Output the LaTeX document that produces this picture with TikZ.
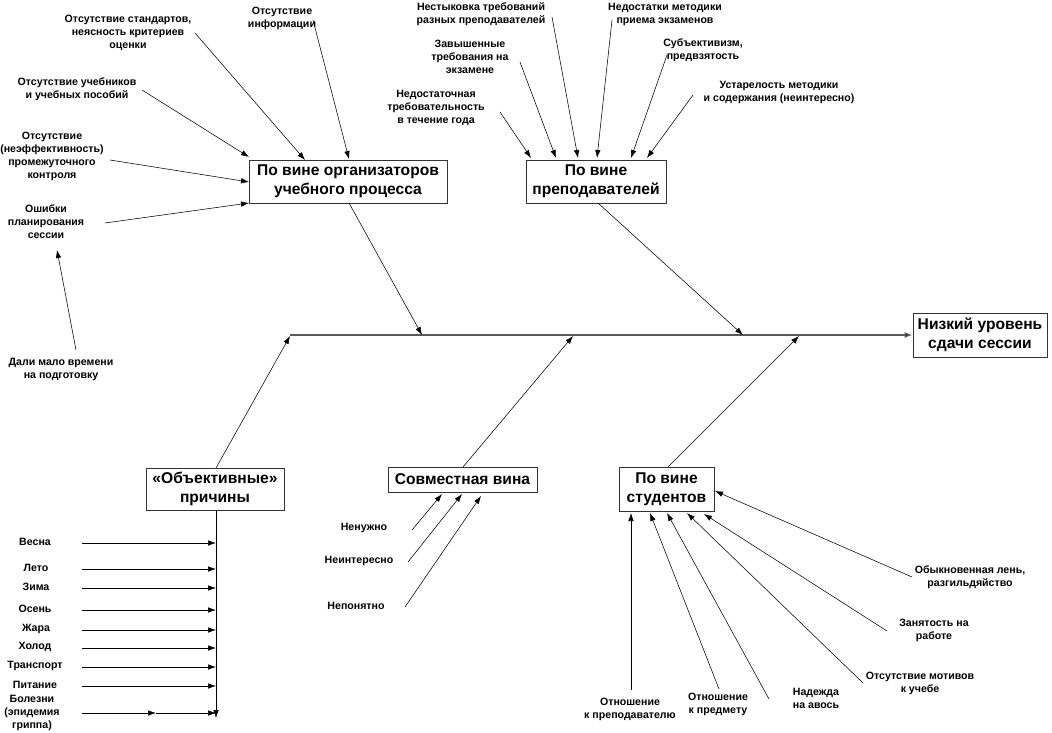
\documentclass[tikz,border=0pt]{standalone}
\usepackage{fontspec}
\setmainfont{Liberation Sans}
\usetikzlibrary{arrows.meta,calc}
\begin{document}
\begin{tikzpicture}[x=1pt,y=-1pt,
  lbl/.style={font=\fontsize{10.6}{13}\selectfont\bfseries,align=center,inner sep=0pt},
  box/.style={draw=black!80,line width=0.9pt,fill=white,align=center,inner sep=0pt,font=\fontsize{15.6}{19}\selectfont\bfseries},
  arr/.style={line width=0.55pt,-{Latex[length=8pt,width=5.5pt]}},
  spine/.style={line width=1.3pt,draw=black!65,-{Latex[length=8pt,width=6pt,fill=black]}}]
\useasboundingbox (0,0) rectangle (1052,733);
% boxes
\node[box,minimum width=198pt,minimum height=43pt] (org) at (348,181.5) {По вине организаторов\\учебного процесса};
\node[box,minimum width=140pt,minimum height=43pt] (teach) at (596,181.5) {По вине\\преподавателей};
\node[box,minimum width=138pt,minimum height=42pt] (obj) at (215,489) {«Объективные»\\причины};
\node[box,minimum width=149pt,minimum height=25pt] (sovm) at (462.5,479.5) {Совместная вина};
\node[box,minimum width=95pt,minimum height=44pt] (stud) at (666.5,489) {По вине\\студентов};
\node[box,minimum width=134pt,minimum height=44pt] (main) at (980,335) {Низкий уровень\\сдачи сессии};
% spine
\coordinate (sL) at (290,335);
\draw[spine] (sL) -- (main.west);
\coordinate (s1) at (422,335);
\coordinate (s2) at (743,335);
\coordinate (s3) at (573,336);
\coordinate (s4) at (799,336);
\coordinate (s0) at (290,336);
\coordinate (orgB) at (349,203);
\coordinate (teachB) at (598,203);
\coordinate (objT) at (216,468);
\coordinate (sovmT) at (463,467);
\coordinate (studT) at (668,467);
\draw[arr] (orgB) -- (s1);
\draw[arr] (teachB) -- (s2);
\draw[arr] (objT) -- (s0);
\draw[arr] (sovmT) -- (s3);
\draw[arr] (studT) -- (s4);
% organizers
\node[lbl] (o1) at (128,33) {Отсутствие стандартов,\\неясность критериев\\оценки};
\node[lbl] (o2) at (282,18.5) {Отсутствие\\информации};
\node[lbl] (o3) at (77,89.5) {Отсутствие учебников\\и учебных пособий};
\node[lbl] (o4) at (52,156.5) {Отсутствие\\(неэффективность)\\промежуточного\\контроля};
\node[lbl] (o5) at (46,222) {Ошибки\\планирования\\сессии};
\node[lbl] (o6) at (61,369) {Дали мало времени\\на подготовку};
\coordinate (o1s) at (195,33); \coordinate (o1e) at (305,160);
\coordinate (o2s) at (313,20); \coordinate (o2e) at (349,159);
\coordinate (o3s) at (142,90); \coordinate (o3e) at (249,157);
\coordinate (o4s) at (110,160); \coordinate (o4e) at (249,182);
\coordinate (o5s) at (105,223); \coordinate (o5e) at (249,203);
\coordinate (o6s) at (76,350); \coordinate (o6e) at (57,250);
\foreach \i in {1,...,6} {\draw[arr] (o\i s) -- (o\i e);}
% teachers
\node[lbl] (p1) at (481,14.5) {Нестыковка требований\\разных преподавателей};
\node[lbl] (p2) at (665,14.5) {Недостатки методики\\приема экзаменов};
\node[lbl] (p3) at (470,57) {Завышенные\\требования на\\экзамене};
\node[lbl] (p4) at (703,50.5) {Субъективизм,\\предвзятость};
\node[lbl] (p5) at (436,108) {Недостаточная\\требовательность\\в течение года};
\node[lbl] (p6) at (779,92.5) {Устарелость методики\\и содержания (неинтересно)};
\coordinate (p1s) at (552,17); \coordinate (p1e) at (578,158);
\coordinate (p2s) at (612,20); \coordinate (p2e) at (597,158);
\coordinate (p3s) at (520,62); \coordinate (p3e) at (556,158);
\coordinate (p4s) at (667,55); \coordinate (p4e) at (631,158);
\coordinate (p5s) at (500,112); \coordinate (p5e) at (531,158);
\coordinate (p6s) at (693,95); \coordinate (p6e) at (647,158);
\foreach \i in {1,...,6} {\draw[arr] (p\i s) -- (p\i e);}
% objective
\coordinate (vEnd) at (216,718);
\draw[arr] (obj.south -| objT) -- (vEnd);
\foreach \n/\t/\y/\xx in {b1/Весна/543/35, b2/Лето/569/36, b3/Зима/588/36, b4/Осень/610/35, b5/Жара/630/36, b6/Холод/648/35, b7/Транспорт/667/35, b8/Питание/686/35} {
  \node[lbl] (\n) at (\xx,\y-1) {\t};
  \coordinate (\n s) at (82,\y);
  \coordinate (\n e) at (216,\y);
  \draw[arr] (\n s) -- (\n e);
}
\node[lbl] (b9) at (32,712.5) {Болезни\\(эпидемия\\гриппа)};
\coordinate (b9s) at (82,713); \coordinate (b9m) at (156,713); \coordinate (b9e) at (216,713);
\draw[arr] (b9s) -- (b9m);
\draw[arr] (b9m) -- (b9e);
% joint
\node[lbl] (c1) at (364,528) {Ненужно};
\node[lbl] (c2) at (359,561) {Неинтересно};
\node[lbl] (c3) at (356,606) {Непонятно};
\coordinate (c1s) at (412,530); \coordinate (c1e) at (442,494);
\coordinate (c2s) at (408,562); \coordinate (c2e) at (462,494);
\coordinate (c3s) at (405,607); \coordinate (c3e) at (481,496);
\foreach \i in {1,2,3} {\draw[arr] (c\i s) -- (c\i e);}
% students
\node[lbl] (d1) at (630,709) {Отношение\\к преподавателю};
\node[lbl] (d2) at (718,704.5) {Отношение\\к предмету};
\node[lbl] (d3) at (816,698.5) {Надежда\\на авось};
\node[lbl] (d4) at (920,683.5) {Отсутствие мотивов\\к учебе};
\node[lbl] (d5) at (934,630.5) {Занятость на\\работе};
\node[lbl] (d6) at (970,577.5) {Обыкновенная лень,\\разгильдяйство};
\coordinate (d1s) at (631,690); \coordinate (d1e) at (631,513);
\coordinate (d2s) at (719,689); \coordinate (d2e) at (650,513);
\coordinate (d3s) at (769,699); \coordinate (d3e) at (667,513);
\coordinate (d4s) at (863,683); \coordinate (d4e) at (687,513);
\coordinate (d5s) at (887,631); \coordinate (d5e) at (704,514);
\coordinate (d6s) at (912,577); \coordinate (d6e) at (715,491);
\foreach \i in {1,...,6} {\draw[arr] (d\i s) -- (d\i e);}
\end{tikzpicture}
\end{document}
